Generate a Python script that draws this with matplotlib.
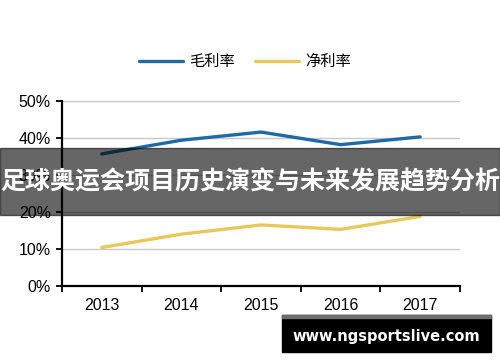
import numpy as np
import matplotlib.pyplot as plt
from matplotlib.patches import Rectangle

plt.rcParams['font.family'] = ['Liberation Sans', 'Noto Sans CJK SC', 'DejaVu Sans']

years = ['2013', '2014', '2015', '2016', '2017']
gross = [35.7, 39.4, 41.6, 38.2, 40.3]
net = [10.4, 14.0, 16.5, 15.3, 18.8]
yticks = [0, 10, 20, 30, 40, 50]

fig = plt.figure(figsize=(5, 3.62), dpi=100)
ax = fig.add_axes([0.124, 0.21, 0.796, 0.511])

x = np.arange(len(years))
ax.plot(x, gross, color='#1f6aa5', lw=2.4, label='毛利率', solid_capstyle='round')
ax.plot(x, net, color='#e6c85c', lw=2.4, label='净利率', solid_capstyle='round')

ax.set_xlim(-0.5, len(years) - 0.5)
ax.set_ylim(0, 50)
ax.set_yticks(yticks)
ax.set_yticklabels([f'{v}%' for v in yticks], fontsize=11.5)
ax.set_xticks(np.arange(len(years) + 1) - 0.5)
ax.set_xticklabels([])
ax.set_xticks(x, minor=True)
ax.set_xticklabels(years, minor=True, fontsize=11.5)
ax.tick_params(axis='x', which='minor', length=0, pad=9)
ax.tick_params(axis='x', which='major', length=4, width=1.3, direction='out')
ax.tick_params(axis='y', length=4, width=1.3, direction='out', pad=4)
for s in ['top', 'right']:
    ax.spines[s].set_visible(False)
for s in ['left', 'bottom']:
    ax.spines[s].set_linewidth(1.6)
ax.grid(axis='y', color='#c8c8c8', lw=1)
ax.set_axisbelow(True)

fig.legend(loc='center', bbox_to_anchor=(0.49, 0.829), ncol=2, frameon=False,
           handlelength=2.9, columnspacing=1.3, handletextpad=0.4,
           prop={'family': ['Noto Sans CJK SC'], 'size': 11})

# overlay banner
fig.patches.append(Rectangle((0, 1 - 215 / 362), 1, 67 / 362, transform=fig.transFigure,
                             color='black', alpha=0.6, zorder=10))
fig.text(0.5, 1 - 182 / 362, '足球奥运会项目历史演变与未来发展趋势分析', ha='center', va='center',
         color='white', fontsize=18, fontweight='bold', family=['Noto Sans CJK SC'], zorder=11)

# watermark
fig.patches.append(Rectangle((282 / 500, 1 - 352 / 362), 209 / 500, 37 / 362,
                             transform=fig.transFigure, color='black', zorder=10))
fig.patches.append(Rectangle((282 / 500, 1 - 318 / 362), 209 / 500, 3 / 362,
                             transform=fig.transFigure, color='#6e6e6e', zorder=11))
fig.text(386 / 500, 1 - 336 / 362, 'www.ngsportslive.com', ha='center', va='center',
         color='white', fontsize=10.5, fontweight='bold', family=['DejaVu Sans'], zorder=12)

fig.savefig('out.png', dpi=100)
